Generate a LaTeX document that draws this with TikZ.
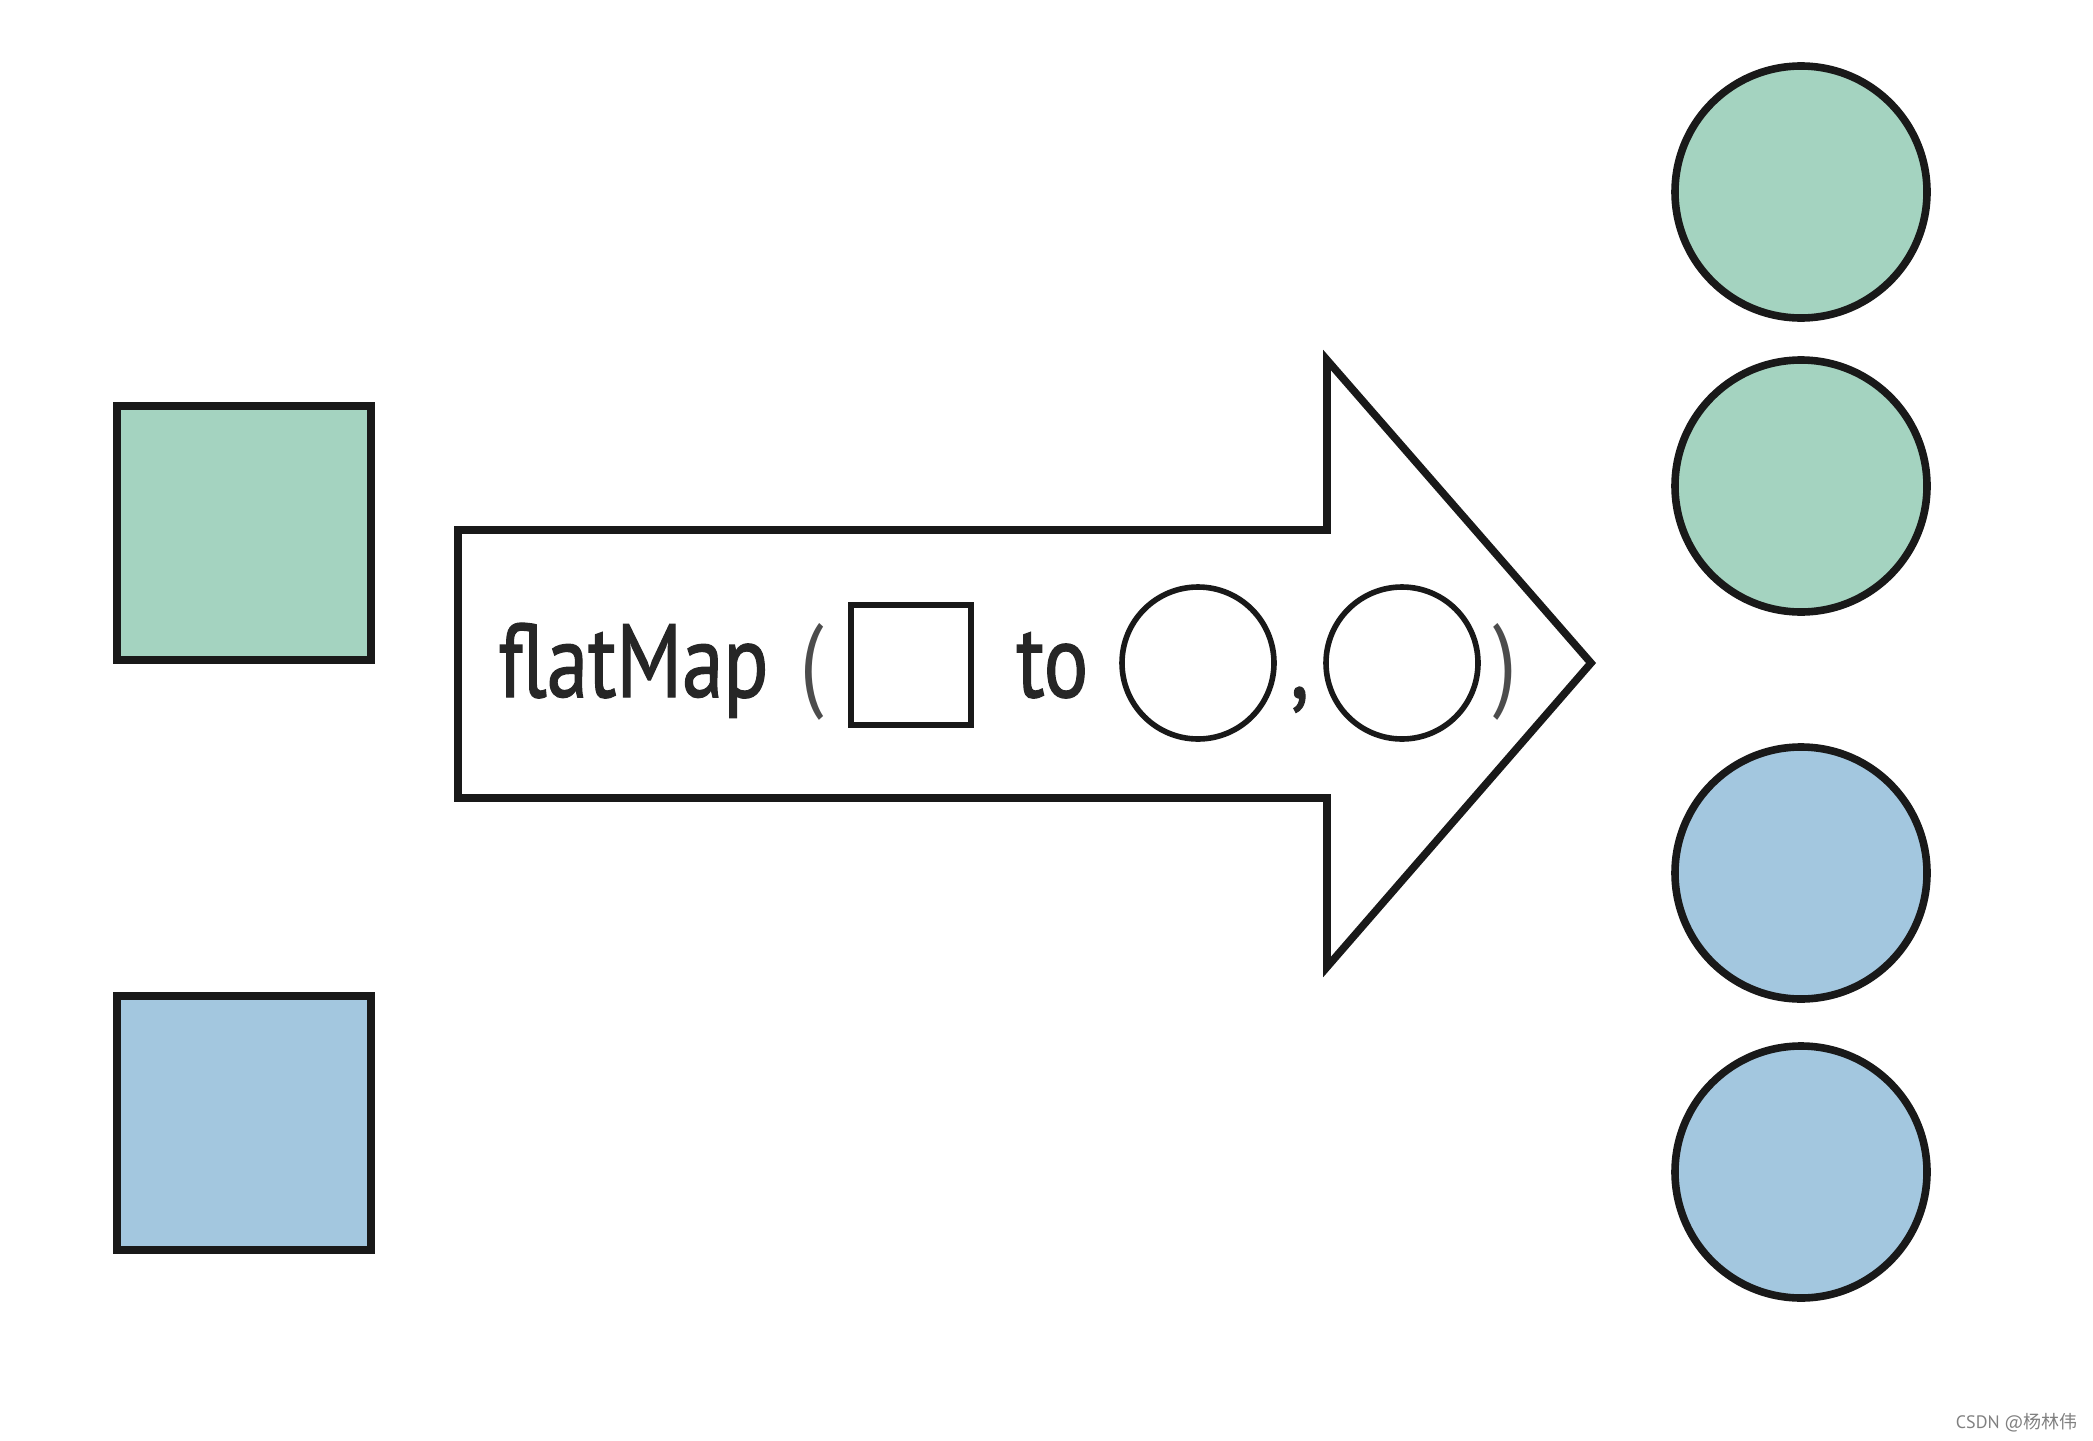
\documentclass[tikz,border=0pt]{standalone}
\usepackage{fontspec}
\setmainfont{PT Sans}
\newfontfamily\labelfont[FakeStretch=0.8,FakeBold=1.2]{PT Sans}
\newfontfamily\parenfont[FakeStretch=0.8]{PT Sans}
\newfontfamily\cjk{Noto Sans CJK SC}
\definecolor{mapgreen}{RGB}{164,211,192}
\definecolor{mapblue}{RGB}{163,199,223}
\begin{document}
\begin{tikzpicture}%
	[x=0.5pt,
	y=-0.5pt,
	item/.style={draw=black!90, line width=3.8pt, inner sep=0pt, outer sep=0pt},
	greensquare/.style={item, fill=mapgreen, minimum size=127pt},
	bluesquare/.style={item, fill=mapblue, minimum size=127pt},
	greendot/.style={item, circle, fill=mapgreen, minimum size=126pt},
	bluedot/.style={item, circle, fill=mapblue, minimum size=126pt},
	smallsquare/.style={draw=black!90, line width=2.8pt, inner sep=0pt, minimum size=60pt},
	smalldot/.style={draw=black!90, line width=2.8pt, circle, inner sep=0pt, minimum size=76pt},
	word/.style={inner sep=0pt, anchor=base west, font=\labelfont\fontsize{52}{52}\selectfont, text=black!85},
	paren/.style={word, font=\parenfont\fontsize{52}{52}\selectfont, text=black!70},
	arrowline/.style={draw=black!90, line width=3.8pt, line join=miter, fill=white}]
%
\useasboundingbox (0,0) rectangle (2093,1440);
%%
%% Input squares
%%
\node[greensquare] (green square) at (244,533) {};
\node[bluesquare] (blue square) at (244,1123) {};
%%
%% The big arrow
%%
\coordinate (shaft top) at (458,530);
\coordinate (head top) at (1327,360);
\coordinate (tip) at (1591,663);
\coordinate (head bottom) at (1327,967);
\coordinate (shaft bottom) at (458,798);
\draw[arrowline] (shaft top) -- (1327,530) -- (head top) -- (tip) -- (head bottom) -- (1327,798) -- (shaft bottom) -- cycle;
%%
%% Label inside the arrow
%%
\node[word] (flatmap) at (498,697) {flatMap};
\node[paren] (open) at (800,697) {(};
\node[smallsquare] (in square) at (911,665) {};
\node[word] (to) at (1016,697) {to};
\node[smalldot] (out one) at (1198,663) {};
\node[word] (comma) at (1290,697) {,};
\node[smalldot] (out two) at (1402,663) {};
\node[paren] (close) at (1493,697) {)};
%%
%% Output circles
%%
\node[greendot] (green one) at (1801,192) {};
\node[greendot] (green two) at (1801,486) {};
\node[bluedot] (blue one) at (1801,873) {};
\node[bluedot] (blue two) at (1801,1172) {};
%%
%% Watermark
%%
\node[anchor=base east, inner sep=0pt, text=black!50, font=\fontsize{9}{9}\selectfont] (mark) at (2078,1428) {CSDN @{\cjk 杨林伟}};
\end{tikzpicture}
\end{document}
